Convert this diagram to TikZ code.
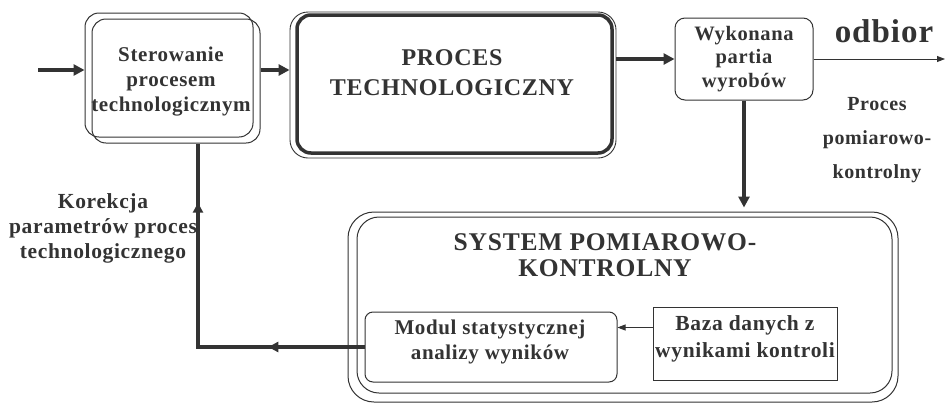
\documentclass[tikz,border=0pt]{standalone}
\usepackage{fontspec}
\setmainfont[LetterSpace=3]{Liberation Serif}
\usetikzlibrary{arrows.meta,decorations.markings}
\definecolor{ink}{HTML}{333333}
\begin{document}
\begin{tikzpicture}[x=1pt,y=-1pt,
  shp/.style={draw=ink, inner sep=0pt, line width=1pt},
  txt/.style={align=center, text=ink, inner sep=0pt},
  arr/.style={draw=ink, line width=3.5pt, -{Triangle[length=11pt,width=11pt]}},
  tarr/.style={draw=ink, line width=0.9pt, -{Triangle[length=8pt,width=6pt]}},
  fb/.style={draw=ink, line width=3.5pt}]
\useasboundingbox[fill=white] (0,0) rectangle (946,405);

% Sterowanie
\node[shp, rounded corners=14pt, minimum width=168pt, minimum height=124pt] (ster) at (169,75) {};
\node[shp, rounded corners=14pt, minimum width=168pt, minimum height=124pt] (ster2) at (176,81) {};
\node[txt, font=\fontsize{21}{25}\selectfont\bfseries] (stertxt) at (171,82) {Sterowanie\\procesem\\technologicznym};

% PROCES
\node[shp, rounded corners=18pt, minimum width=326pt, minimum height=146pt, line width=0.9pt] (proc2) at (453,85) {};
\node[shp, rounded corners=14pt, minimum width=315pt, minimum height=138pt, line width=3.5pt] (proc) at (454.5,84) {};
\node[txt, font=\fontsize{24}{30}\selectfont\bfseries] (proctxt) at (452,73) {PROCES\\TECHNOLOGICZNY};

% Wykonana
\node[shp, rounded corners=10pt, minimum width=138pt, minimum height=82pt, txt, draw=ink, font=\fontsize{20.5}{23.5}\selectfont\bfseries] (wyk) at (744,59) {Wykonana\\partia\\wyrobów};

% odbior
\node[txt, font=\fontsize{33}{36}\selectfont\bfseries] (odb) at (884,31) {odbior};
\node[txt, font=\fontsize{20}{34}\selectfont\bfseries] (ppk) at (877,140) {Proces\\pomiarowo-\\kontrolny};

% Korekcja
\node[txt, font=\fontsize{21.5}{25}\selectfont\bfseries] (kor) at (103,228) {Korekcja\\parametrów proces\\technologicznego};

% SYSTEM
\node[shp, rounded corners=26pt, minimum width=550pt, minimum height=190pt] (sys) at (623,307) {};
\node[shp, rounded corners=22pt, minimum width=535pt, minimum height=176pt] (sys2) at (624.5,305) {};
\node[txt, font=\fontsize{25.5}{26}\selectfont\bfseries] (systxt) at (605,255) {SYSTEM POMIAROWO-\\KONTROLNY};

% Modul
\node[shp, rounded corners=8pt, minimum width=252pt, minimum height=70pt] (mod) at (491,347) {};
\node[txt, font=\fontsize{21}{25}\selectfont\bfseries] (modtxt) at (490,342) {Modul statystycznej\\analizy wyników};

% Baza
\node[shp, minimum width=184pt, minimum height=73pt] (baza) at (745,343.5) {};
\node[txt, font=\fontsize{21.5}{27}\selectfont\bfseries] (bazatxt) at (745,338.5) {Baza danych z\\wynikami kontroli};

% connectors
\coordinate (in) at (38,70);
\draw[arr] (in) -- (in -| ster.west);
\draw[arr] (ster2.east |- in) -- (proc2.west |- in);
\draw[arr] (proc2.east |- wyk.west) -- (wyk.west);
\coordinate (out) at (945,59);
\draw[tarr] (wyk.east) -- (out);
\draw[arr, shorten >=4pt] (wyk.south) -- (wyk.south |- sys.north);
\draw[tarr] ([yshift=16pt]baza.west) -- ([yshift=16pt]baza.west -| mod.east);
\coordinate (corner) at (198,347);
\draw[fb, postaction={decorate}, decoration={markings,
   mark=at position 0.26 with {\arrow{Triangle[length=10pt,width=10pt]}},
   mark=at position 0.84 with {\arrow{Triangle[length=10pt,width=10pt]}}}]
  (mod.west) -- (corner) -- (corner |- ster2.south);
\end{tikzpicture}
\end{document}
